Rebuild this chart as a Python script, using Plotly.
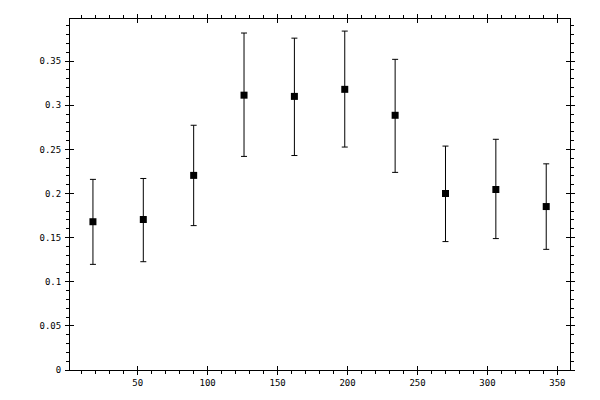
import plotly.graph_objects as go

x_vals = [18, 54, 90, 126, 162, 198, 234, 270, 306, 342]
y_vals = [0.168, 0.1705, 0.2205, 0.3114, 0.310, 0.318, 0.2886, 0.200, 0.2045, 0.1852]
y_high = [0.216, 0.217, 0.2773, 0.3818, 0.376, 0.384, 0.352, 0.2537, 0.2614, 0.2336]
y_low = [0.1197, 0.1227, 0.1636, 0.242, 0.243, 0.2526, 0.2239, 0.1455, 0.1489, 0.1367]

err_plus = [h - y for h, y in zip(y_high, y_vals)]
err_minus = [y - l for l, y in zip(y_low, y_vals)]

x_range = [1.6, 359]
y_range = [0, 0.3977]

fig = go.Figure()
fig.add_trace(go.Scatter(
    x=x_vals, y=y_vals, mode="markers",
    marker=dict(symbol="square", size=7, color="black"),
    error_y=dict(type="data", array=err_plus, arrayminus=err_minus,
                 color="black", thickness=1, width=3, visible=True),
    showlegend=False,
))
# invisible trace on overlay axes for crossing major ticks
fig.add_trace(go.Scatter(x=[None], y=[None], xaxis="x2", yaxis="y2",
                         showlegend=False, hoverinfo="skip"))

font = dict(family="DejaVu Sans Mono", size=9, color="black")

fig.update_layout(
    width=600, height=400,
    margin=dict(l=70, r=30, t=19, b=30),
    paper_bgcolor="white", plot_bgcolor="white",
    font=font,
    xaxis=dict(range=x_range, dtick=50, tick0=0, ticks="outside", ticklen=4,
               tickwidth=1, tickcolor="black", showgrid=False, zeroline=False,
               showline=True, linecolor="black", linewidth=1, mirror="ticks",
               minor=dict(dtick=10, tick0=0, ticks="outside", ticklen=3,
                          tickcolor="black", tickwidth=1, showgrid=False),
               tickfont=font),
    yaxis=dict(range=y_range, dtick=0.05, tick0=0, ticks="outside", ticklen=4,
               tickwidth=1, tickcolor="black", showgrid=False, zeroline=False,
               showline=True, linecolor="black", linewidth=1, mirror="ticks",
               minor=dict(dtick=0.01, tick0=0, ticks="outside", ticklen=3,
                          tickcolor="black", tickwidth=1, showgrid=False),
               tickfont=font, ticklabelstandoff=2),
    xaxis2=dict(overlaying="x", range=x_range, dtick=50, tick0=0,
                ticks="inside", ticklen=4, tickcolor="black", tickwidth=1,
                showticklabels=False, showgrid=False, zeroline=False,
                showline=False, mirror="ticks"),
    yaxis2=dict(overlaying="y", range=y_range, dtick=0.05, tick0=0,
                ticks="inside", ticklen=4, tickcolor="black", tickwidth=1,
                showticklabels=False, showgrid=False, zeroline=False,
                showline=False, mirror="ticks"),
)

fig.write_html("out.html",
               config={"displayModeBar": False, "staticPlot": True},
               post_script="document.body.style.margin='0';document.body.style.overflow='hidden';")
